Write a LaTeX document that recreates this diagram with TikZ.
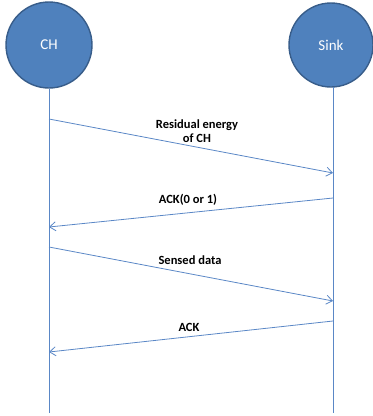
\documentclass[tikz,border=0pt]{standalone}
\usepackage{fontspec}
\setmainfont{Carlito}
\usetikzlibrary{arrows.meta}
\definecolor{nodefill}{HTML}{4F81BD}
\definecolor{nodeedge}{HTML}{385D8A}
\definecolor{msgline}{HTML}{5A87C6}
\tikzset{
  actor/.style={circle, fill=nodefill, draw=nodeedge, line width=1.4pt, minimum size=86pt, inner sep=0pt, text=white, font=\fontsize{15}{15}\selectfont},
  lifeline/.style={draw=msgline, line width=0.8pt},
  msg/.style={draw=msgline, line width=0.8pt, -{Straight Barb[length=6pt,width=9pt]}},
  lbl/.style={font=\fontsize{12.5}{13.5}\selectfont\bfseries, align=center, inner sep=0pt}
}
\begin{document}
\begin{tikzpicture}[x=1pt,y=-1pt]
\useasboundingbox (0,0) rectangle (373,416);
\node[actor] (ch) at (49,45) {CH};
\node[actor, minimum size=84pt] (sink) at (331,45) {Sink};
\coordinate (chend) at (49,413);
\coordinate (sinkend) at (333,413);
\draw[lifeline] (ch.south) -- (chend);
\draw[lifeline] (333,87) -- (sinkend);
\coordinate (a1s) at (49,119);
\coordinate (a1e) at (333,173);
\coordinate (a2s) at (333,198);
\coordinate (a2e) at (49,227);
\coordinate (a3s) at (49,247);
\coordinate (a3e) at (333,301);
\coordinate (a4s) at (333,321);
\coordinate (a4e) at (49,352);
\draw[msg] (a1s) -- (a1e);
\draw[msg] (a2s) -- (a2e);
\draw[msg] (a3s) -- (a3e);
\draw[msg] (a4s) -- (a4e);
\node[lbl] (l1) at (197,131) {Residual energy\\of CH};
\node[lbl] (l2) at (188,200) {ACK(0 or 1)};
\node[lbl] (l3) at (190,260) {Sensed data};
\node[lbl] (l4) at (189,327) {ACK};
\end{tikzpicture}
\end{document}
